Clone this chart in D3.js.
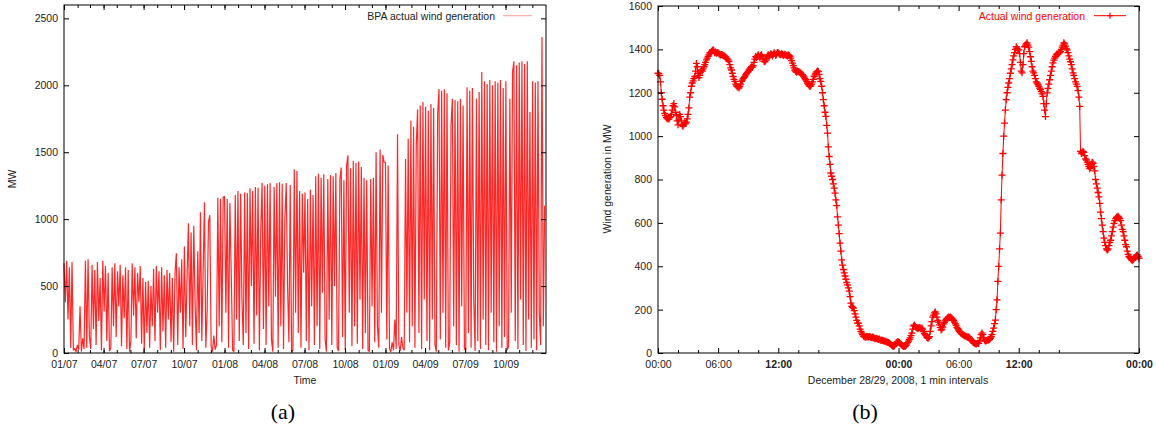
<!DOCTYPE html>
<html>
<head>
<meta charset="utf-8">
<script src="https://cdn.jsdelivr.net/npm/d3@7"></script>
<style>
  body { margin: 0; background: #fff; }
</style>
</head>
<body>
<div id="chart"></div>
<script>
// (a) BPA actual wind generation, MW, ~3 day samples
var gen2007 = [
  670, 380, 690, 250, 640, 40, 680, 20, 35, 8,
  60, 25, 350, 10, 110, 30, 690, 40, 700, 120,
  30, 660, 180, 620, 60, 680, 240, 560, 20, 690,
  310, 650, 90, 600, 15, 40, 640, 200, 670, 120,
  610, 350, 660, 50, 580, 260, 640, 30, 620, 10,
  90, 670, 280, 640, 110, 600, 380, 650, 70, 560,
  20, 530, 150, 540, 40, 500, 200, 630, 90, 650,
  300, 610, 20, 640, 160, 580, 40, 620, 250, 600,
  80, 560, 10, 600, 745, 60, 640, 300, 700, 30,
  795, 120, 560, 970, 200, 900, 60, 950, 380, 20,
  760, 150, 1052, 90, 600, 1127, 40, 300, 980, 1030,
  50, 10, 130, 25, 60, 1160, 200, 1150, 80, 1165
];
var gen2008 = [
  1170, 300, 1150, 40, 1120, 600, 20, 10, 1180, 250, 1210, 90, 1190, 400, 60, 1200, 150, 1195, 30, 1230,
  500, 1210, 70, 1240, 280, 1235, 20, 900, 1272, 180, 1250, 60, 1260, 350, 1270, 100, 10, 1240, 420, 1268,
  40, 1275, 200, 1265, 30, 1000, 1270, 500, 80, 1255, 10, 20, 1372, 300, 1360, 150, 1210, 40, 1190, 600,
  1200, 90, 1150, 20, 1220, 350, 1180, 60, 1320, 200, 1340, 30, 1310, 450, 1335, 100, 10, 1300, 250, 1330,
  60, 1320, 500, 1345, 40, 15, 1300, 1385, 120, 1290, 20, 1400, 1477, 300, 1380, 50, 1435, 200, 1420, 70,
  1430, 400, 1390, 30, 1310, 150, 1290, 20, 10, 1300, 350, 1310, 80, 1500, 200, 40, 1520, 300, 1480, 1425
];
var gen2009 = [
  1425, 100, 1400, 30, 10, 80, 20, 250, 30, 1635,
  60, 15, 120, 40, 20, 1450, 300, 1600, 80, 1735,
  200, 1690, 40, 1550, 1820, 150, 1850, 30, 1875, 400,
  1840, 90, 1810, 20, 1860, 250, 1830, 60, 10, 1790,
  1972, 100, 1960, 300, 1970, 40, 1940, 20, 80, 1700,
  1900, 200, 1890, 60, 1880, 10, 1897, 350, 1850, 30,
  20, 1985, 150, 1960, 40, 1980, 400, 15, 1900, 90,
  1950, 30, 2100, 250, 2030, 60, 2010, 20, 2040, 300,
  2000, 80, 2030, 10, 2020, 200, 2040, 40, 1980, 120,
  2030, 20, 50, 1900, 300, 2100, 2180, 90, 2150, 30,
  2170, 400, 2180, 60, 2160, 15, 2180, 250, 1800, 40,
  2030, 100, 2020, 20, 2030, 300, 60, 2360, 200, 1100
];
var genYears = [2007, 2008, 2009];
var mwTicksA = [0, 500, 1000, 1500, 2000, 2500];

// (b) Dec 28/29 2008, 5 min samples, one hour per line
var dec2829 = [
  1290, 1288, 1280, 1250, 1200, 1170, 1140, 1120, 1105, 1095, 1085, 1080,
  1083, 1078, 1085, 1090, 1100, 1120, 1140, 1150, 1135, 1110, 1095, 1070,
  1052, 1075, 1100, 1090, 1070, 1050, 1045, 1055, 1060, 1058, 1065, 1080,
  1100, 1130, 1180, 1200, 1230, 1245, 1255, 1265, 1275, 1300, 1335, 1320,
  1290, 1270, 1280, 1295, 1305, 1300, 1310, 1320, 1330, 1340, 1352, 1360,
  1368, 1375, 1384, 1385, 1390, 1395, 1398, 1392, 1385, 1388, 1382, 1386,
  1384, 1380, 1378, 1374, 1376, 1375, 1372, 1370, 1368, 1365, 1360, 1356,
  1352, 1345, 1330, 1315, 1305, 1290, 1275, 1262, 1252, 1240, 1232, 1228,
  1226, 1222, 1230, 1240, 1252, 1258, 1265, 1270, 1275, 1282, 1288, 1293,
  1298, 1305, 1310, 1315, 1320, 1318, 1325, 1340, 1355, 1367, 1362, 1370,
  1375, 1368, 1360, 1372, 1375, 1365, 1355, 1345, 1343, 1350, 1360, 1370,
  1375, 1365, 1372, 1380, 1376, 1370, 1378, 1384, 1380, 1372, 1378, 1386,
  1384, 1380, 1376, 1375, 1380, 1378, 1372, 1375, 1378, 1374, 1372, 1370,
  1375, 1372, 1368, 1360, 1348, 1337, 1325, 1315, 1305, 1298, 1294, 1300,
  1298, 1296, 1295, 1290, 1285, 1283, 1278, 1272, 1265, 1260, 1252, 1245,
  1238, 1232, 1229, 1232, 1240, 1250, 1262, 1275, 1282, 1290, 1296, 1300,
  1298, 1285, 1265, 1252, 1230, 1200, 1168, 1140, 1110, 1091, 1050, 1014,
  950, 906, 870, 830, 815, 800, 780, 760, 737, 706, 680, 628,
  590, 550, 507, 470, 429, 405, 385, 369, 355, 340, 325, 314,
  300, 285, 260, 230, 215, 210, 207, 195, 180, 165, 150, 138,
  138, 125, 110, 100, 92, 85, 78, 75, 75, 72, 76, 75,
  74, 76, 75, 72, 70, 74, 70, 68, 66, 68, 67, 65,
  62, 64, 60, 58, 60, 58, 56, 54, 55, 52, 51, 50,
  48, 45, 42, 40, 36, 32, 30, 34, 40, 46, 50, 52,
  51, 48, 44, 40, 36, 33, 30, 32, 30, 35, 42, 48,
  55, 62, 70, 80, 92, 110, 125, 129, 122, 118, 115, 112,
  115, 118, 115, 112, 115, 110, 100, 90, 85, 80, 72, 69,
  69, 75, 100, 125, 145, 165, 175, 185, 189, 180, 165, 150,
  142, 130, 118, 106, 110, 120, 134, 140, 148, 155, 158, 162,
  166, 164, 166, 162, 160, 155, 150, 142, 135, 128, 118, 112,
  106, 100, 95, 90, 88, 85, 82, 80, 78, 75, 76, 72,
  75, 70, 65, 58, 55, 51, 48, 45, 44, 42, 44, 46,
  44, 55, 70, 85, 92, 85, 70, 60, 55, 57, 58, 60,
  60, 62, 68, 75, 85, 100, 115, 135, 152, 200, 245, 330,
  399, 480, 553, 706, 820, 920, 1000, 1060, 1120, 1168, 1200, 1225,
  1245, 1265, 1290, 1310, 1330, 1352, 1370, 1385, 1400, 1412, 1405, 1398,
  1398, 1380, 1340, 1300, 1292, 1330, 1380, 1412, 1420, 1425, 1430, 1420,
  1410, 1390, 1366, 1345, 1320, 1300, 1292, 1280, 1265, 1250, 1245, 1238,
  1230, 1221, 1215, 1205, 1195, 1183, 1150, 1120, 1090, 1150, 1199, 1220,
  1240, 1260, 1280, 1300, 1320, 1338, 1350, 1360, 1368, 1375, 1380, 1378,
  1384, 1385, 1390, 1400, 1410, 1420, 1430, 1425, 1415, 1405, 1398, 1385,
  1370, 1355, 1343, 1330, 1310, 1292, 1280, 1265, 1250, 1240, 1229, 1210,
  1180, 1137, 930, 920, 925, 930, 925, 910, 895, 890, 880, 870,
  860, 850, 855, 870, 880, 875, 860, 840, 800, 780, 760, 740,
  720, 690, 650, 620, 590, 560, 530, 510, 495, 480, 475, 480,
  495, 510, 520, 540, 560, 580, 598, 610, 620, 625, 628, 630,
  625, 620, 610, 590, 570, 560, 540, 520, 500, 490, 470, 455,
  445, 440, 435, 430, 428, 430, 435, 440, 445, 450, 452, 445,
  437
];
var stepMinutes = 5;
var hourTicks = [0, 6, 12, 24, 30, 36, 48];
var minorHourTicks = [2, 4, 8, 10, 14, 16, 26, 28, 32, 34, 38, 40];
var boldHours = [12, 24, 36, 48];
var mwTicksB = [0, 200, 400, 600, 800, 1000, 1200, 1400, 1600];

var width = 1156, height = 431;
var sans = "'Liberation Sans', Arial, sans-serif";
var serif = "'Liberation Serif', 'DejaVu Serif', serif";

var svg = d3.select("#chart").append("svg")
    .attr("width", width)
    .attr("height", height)
    .style("font-family", sans);

function styleAxis(g) {
    g.select(".domain").remove();
    g.selectAll("line").attr("stroke", "#000");
    g.selectAll("text").style("font-size", "10.5px").style("font-family", sans).attr("fill", "#222");
}

function label(x, y, txt, color) {
    return svg.append("text").attr("x", x).attr("y", y)
        .style("font-size", "10.5px").style("font-family", sans)
        .attr("fill", color || "#222")
        .text(txt);
}

// ---------- (a) ----------
var a = { left: 64, right: 546, top: 5, bottom: 353 };
var xA = d3.scaleTime()
    .domain([new Date(2007, 0, 1), new Date(2009, 11, 31, 23, 55)])
    .range([a.left, a.right]);
var yA = d3.scaleLinear().domain([0, 2600]).range([a.bottom, a.top]);

var seriesA = [];
[gen2007, gen2008, gen2009].forEach(function(vals, k) {
    var t0 = new Date(genYears[k], 0, 1).getTime();
    var t1 = new Date(genYears[k] + 1, 0, 1).getTime();
    vals.forEach(function(v, i) {
        seriesA.push({ t: new Date(t0 + (t1 - t0) * i / vals.length), v: v });
    });
});

var quarters = d3.timeMonth.every(3).range(new Date(2007, 0, 1), new Date(2009, 11, 1));
var months = d3.timeMonth.range(new Date(2007, 0, 1), new Date(2009, 11, 31));

svg.append("path")
    .datum(seriesA)
    .attr("fill", "none")
    .attr("stroke", "#ff0000")
    .attr("stroke-width", 1.2)
    .attr("stroke-opacity", 0.85)
    .attr("stroke-linejoin", "bevel")
    .attr("d", d3.line().x(function(d) { return xA(d.t) }).y(function(d) { return yA(d.v) }));

svg.append("g").attr("transform", "translate(0," + a.bottom + ")")
    .call(d3.axisBottom(xA).tickValues(months).tickFormat("").tickSizeInner(-3).tickSizeOuter(0))
    .call(styleAxis);
svg.append("g").attr("transform", "translate(0," + a.bottom + ")")
    .call(d3.axisBottom(xA).tickValues(quarters).tickFormat(d3.timeFormat("%m/%y")).tickSizeInner(-5).tickSizeOuter(0).tickPadding(8))
    .call(styleAxis);
svg.append("g").attr("transform", "translate(0," + a.top + ")")
    .call(d3.axisTop(xA).tickValues(months).tickFormat("").tickSizeInner(-3).tickSizeOuter(0))
    .call(styleAxis);
svg.append("g").attr("transform", "translate(0," + a.top + ")")
    .call(d3.axisTop(xA).tickValues(quarters).tickFormat("").tickSizeInner(-5).tickSizeOuter(0))
    .call(styleAxis);
svg.append("g").attr("transform", "translate(" + a.left + ",0)")
    .call(d3.axisLeft(yA).tickValues(mwTicksA).tickFormat(d3.format("d")).tickSizeInner(-5).tickSizeOuter(0).tickPadding(6))
    .call(styleAxis);
svg.append("g").attr("transform", "translate(" + a.right + ",0)")
    .call(d3.axisRight(yA).tickValues(mwTicksA).tickFormat("").tickSizeInner(-5).tickSizeOuter(0))
    .call(styleAxis);

svg.append("rect")
    .attr("x", a.left).attr("y", a.top)
    .attr("width", a.right - a.left).attr("height", a.bottom - a.top)
    .attr("fill", "none").attr("stroke", "#000").attr("stroke-width", 1);

label(305, 384, "Time").attr("text-anchor", "middle");
label(0, 0, "MW").attr("x", null).attr("y", null)
    .attr("transform", "translate(16,179) rotate(-90)").attr("text-anchor", "middle");

label(495, 19.5, "BPA actual wind generation").attr("text-anchor", "end");
svg.append("line").attr("x1", 503).attr("x2", 532).attr("y1", 15.7).attr("y2", 15.7)
    .attr("stroke", "#ff9a9a").attr("stroke-width", 1);

// ---------- (b) ----------
var b = { left: 658, right: 1139, top: 6, bottom: 353 };
var xB = d3.scaleLinear().domain([0, 48 * 60]).range([b.left, b.right]);
var yB = d3.scaleLinear().domain([0, 1600]).range([b.bottom, b.top]);

var seriesB = dec2829.map(function(v, i) { return { m: i * stepMinutes, v: v } });

function hourLabel(m) {
    var h = (m / 60) % 24;
    return (h < 10 ? "0" : "") + h + ":00";
}
var hourMin = hourTicks.map(function(h) { return h * 60 });
var minorMin = minorHourTicks.map(function(h) { return h * 60 });

svg.append("path")
    .datum(seriesB)
    .attr("fill", "none")
    .attr("stroke", "#ff0000")
    .attr("stroke-width", 1)
    .attr("d", d3.line().x(function(d) { return xB(d.m) }).y(function(d) { return yB(d.v) }));

svg.append("g")
    .selectAll(".pt")
    .data(seriesB)
    .enter().append("path")
    .attr("class", "pt")
    .attr("d", "M-3.5,0H3.5M0,-3.5V3.5")
    .attr("stroke", "#ff0000")
    .attr("stroke-width", 1.3)
    .attr("transform", function(d) { return "translate(" + xB(d.m) + "," + yB(d.v) + ")" });

var xAxisB = svg.append("g").attr("transform", "translate(0," + b.bottom + ")")
    .call(d3.axisBottom(xB).tickValues(hourMin).tickFormat(hourLabel).tickSizeInner(-5).tickSizeOuter(0).tickPadding(8))
    .call(styleAxis);
xAxisB.selectAll("text").style("font-weight", function(d) {
    return boldHours.indexOf(d / 60) >= 0 ? "bold" : "normal";
});
svg.append("g").attr("transform", "translate(0," + b.bottom + ")")
    .call(d3.axisBottom(xB).tickValues(minorMin).tickFormat("").tickSizeInner(-3).tickSizeOuter(0))
    .call(styleAxis);
svg.append("g").attr("transform", "translate(0," + b.top + ")")
    .call(d3.axisTop(xB).tickValues(hourMin).tickFormat("").tickSizeInner(-5).tickSizeOuter(0))
    .call(styleAxis);
svg.append("g").attr("transform", "translate(0," + b.top + ")")
    .call(d3.axisTop(xB).tickValues(minorMin).tickFormat("").tickSizeInner(-3).tickSizeOuter(0))
    .call(styleAxis);
svg.append("g").attr("transform", "translate(" + b.left + ",0)")
    .call(d3.axisLeft(yB).tickValues(mwTicksB).tickFormat(d3.format("d")).tickSizeInner(-5).tickSizeOuter(0).tickPadding(6))
    .call(styleAxis);
svg.append("g").attr("transform", "translate(" + b.right + ",0)")
    .call(d3.axisRight(yB).tickValues(mwTicksB).tickFormat("").tickSizeInner(-5).tickSizeOuter(0))
    .call(styleAxis);

svg.append("rect")
    .attr("x", b.left).attr("y", b.top)
    .attr("width", b.right - b.left).attr("height", b.bottom - b.top)
    .attr("fill", "none").attr("stroke", "#000").attr("stroke-width", 1);

label(898, 384, "December 28/29, 2008, 1 min intervals").attr("text-anchor", "middle");
label(0, 0, "Wind generation in MW").attr("x", null).attr("y", null)
    .attr("transform", "translate(611,179) rotate(-90)").attr("text-anchor", "middle");

label(1085, 19.5, "Actual wind generation", "#ff0000").attr("text-anchor", "end");
svg.append("line").attr("x1", 1094).attr("x2", 1126).attr("y1", 15.7).attr("y2", 15.7)
    .attr("stroke", "#ff0000").attr("stroke-width", 1);
svg.append("path").attr("d", "M1107,15.7H1113M1110,12.7V18.7")
    .attr("stroke", "#ff0000").attr("stroke-width", 1.2);

// captions
svg.append("text").attr("x", 283).attr("y", 419)
    .attr("text-anchor", "middle")
    .style("font-size", "22px").style("font-family", serif)
    .attr("fill", "#000")
    .text("(a)");
svg.append("text").attr("x", 865).attr("y", 419)
    .attr("text-anchor", "middle")
    .style("font-size", "22px").style("font-family", serif)
    .attr("fill", "#000")
    .text("(b)");
</script>
</body>
</html>
